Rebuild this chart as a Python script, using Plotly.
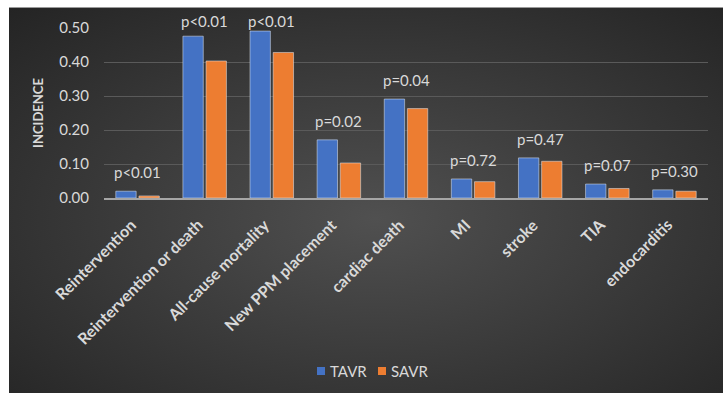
import base64
import plotly.graph_objects as go

categories = ["Reintervention", "Reintervention or death", "All-cause mortality",
              "New PPM placement", "cardiac death", "MI", "stroke", "TIA", "endocarditis"]
tavr = [0.020, 0.476, 0.491, 0.171, 0.291, 0.056, 0.118, 0.041, 0.024]
savr = [0.006, 0.403, 0.428, 0.103, 0.263, 0.048, 0.108, 0.028, 0.020]
pvalues = ["p<0.01", "p<0.01", "p<0.01", "p=0.02", "p=0.04", "p=0.72", "p=0.47", "p=0.07", "p=0.30"]
series_names = ["TAVR", "SAVR"]
y_ticks = [0.0, 0.1, 0.2, 0.3, 0.4, 0.5]

W, H = 723, 393
L, R, T, B = 104, 15, 28, 195
pw, ph = W - L - R, H - T - B

FONT = "Lato"
TXT = "#d9d9d9"
COLORS = ["#4472c4", "#ed7d31"]
LABEL_CAP = 0.466  # keep p-value labels inside the chart area (as the original does)

svg = ('<svg xmlns="http://www.w3.org/2000/svg" width="714" height="385" viewBox="0 0 714 385" '
       'preserveAspectRatio="none"><defs><radialGradient id="g" cx="50%" cy="52%" r="72%">'
       '<stop offset="0" stop-color="#505050"/><stop offset="1" stop-color="#242424"/>'
       '</radialGradient></defs><rect width="714" height="385" fill="url(#g)"/></svg>')
src = "data:image/svg+xml;base64," + base64.b64encode(svg.encode()).decode()

def px_x(p):
    return (p - L) / pw

def px_y(p):
    return (H - B - p) / ph

fig = go.Figure()
for name, vals, col in zip(series_names, [tavr, savr], COLORS):
    fig.add_trace(go.Bar(name=name, x=categories, y=vals, marker_color=col, showlegend=False))

# p-value labels above each group
for c, v, p in zip(categories, tavr, pvalues):
    fig.add_annotation(x=c, y=min(v, LABEL_CAP), text=p, showarrow=False, yanchor="bottom", yshift=8,
                       font=dict(family=FONT, size=15, color=TXT))

# rotated category labels (top-right corner anchored at the category)
for c in categories:
    fig.add_annotation(x=c, y=0, yref="y", text="<b>%s</b>" % c, showarrow=False, textangle=-45,
                       xanchor="right", yanchor="top", xshift=4, yshift=-14,
                       font=dict(family=FONT, size=16, color=TXT))

# manual legend
lx = [317, 378]
for name, col, x0 in zip(series_names, COLORS, lx):
    fig.add_shape(type="rect", xref="paper", yref="paper", x0=px_x(x0), x1=px_x(x0 + 8),
                  y0=px_y(375), y1=px_y(367), fillcolor=col, line=dict(width=0))
    fig.add_annotation(xref="paper", yref="paper", x=px_x(x0 + 11), y=px_y(371), text=name,
                       showarrow=False, xanchor="left", yanchor="middle",
                       font=dict(family=FONT, size=15, color=TXT))

fig.add_layout_image(dict(source=src, xref="paper", yref="paper",
                          x=px_x(9), y=px_y(8), sizex=(W + 20 - 9) / pw, sizey=(H + 20 - 8) / ph,
                          xanchor="left", yanchor="top", sizing="stretch", layer="below"))
# white outer strips (top and left) and thin border line
fig.add_shape(type="rect", xref="paper", yref="paper", x0=px_x(-5), x1=px_x(W + 5), y0=px_y(7.5), y1=px_y(-5),
              fillcolor="white", line=dict(width=0), layer="above")
fig.add_shape(type="rect", xref="paper", yref="paper", x0=px_x(-5), x1=px_x(9), y0=px_y(H + 5), y1=px_y(-5),
              fillcolor="white", line=dict(width=0), layer="above")
fig.add_shape(type="line", xref="paper", yref="paper", x0=px_x(9), x1=px_x(W + 5), y0=px_y(7.5), y1=px_y(7.5),
              line=dict(color="#9a9a9a", width=1), layer="above")

fig.update_layout(
    width=W, height=H,
    margin=dict(l=L, r=R, t=T, b=B, autoexpand=False),
    paper_bgcolor="#262626", plot_bgcolor="rgba(0,0,0,0)",
    barmode="group", bargap=0.31, bargroupgap=0.12,
    font=dict(family=FONT, color=TXT),
    showlegend=False,
    xaxis=dict(range=[-0.5, 8.5], autorange=False, showticklabels=False, showline=True,
               linecolor="#a6a6a6", linewidth=1.5, showgrid=False, ticks="", automargin=False),
    yaxis=dict(range=[0, 0.5], autorange=False, tickvals=y_ticks, tickformat=".2f",
               tickfont=dict(family=FONT, size=15, color=TXT),
               gridcolor="#5a5a5a", gridwidth=1, zeroline=False, showline=False,
               ticklabelstandoff=14, automargin=False,
               title=dict(text="<b>INCIDENCE</b>", font=dict(family=FONT, size=13, color=TXT), standoff=12)),
)

fig.write_html("out.html")
